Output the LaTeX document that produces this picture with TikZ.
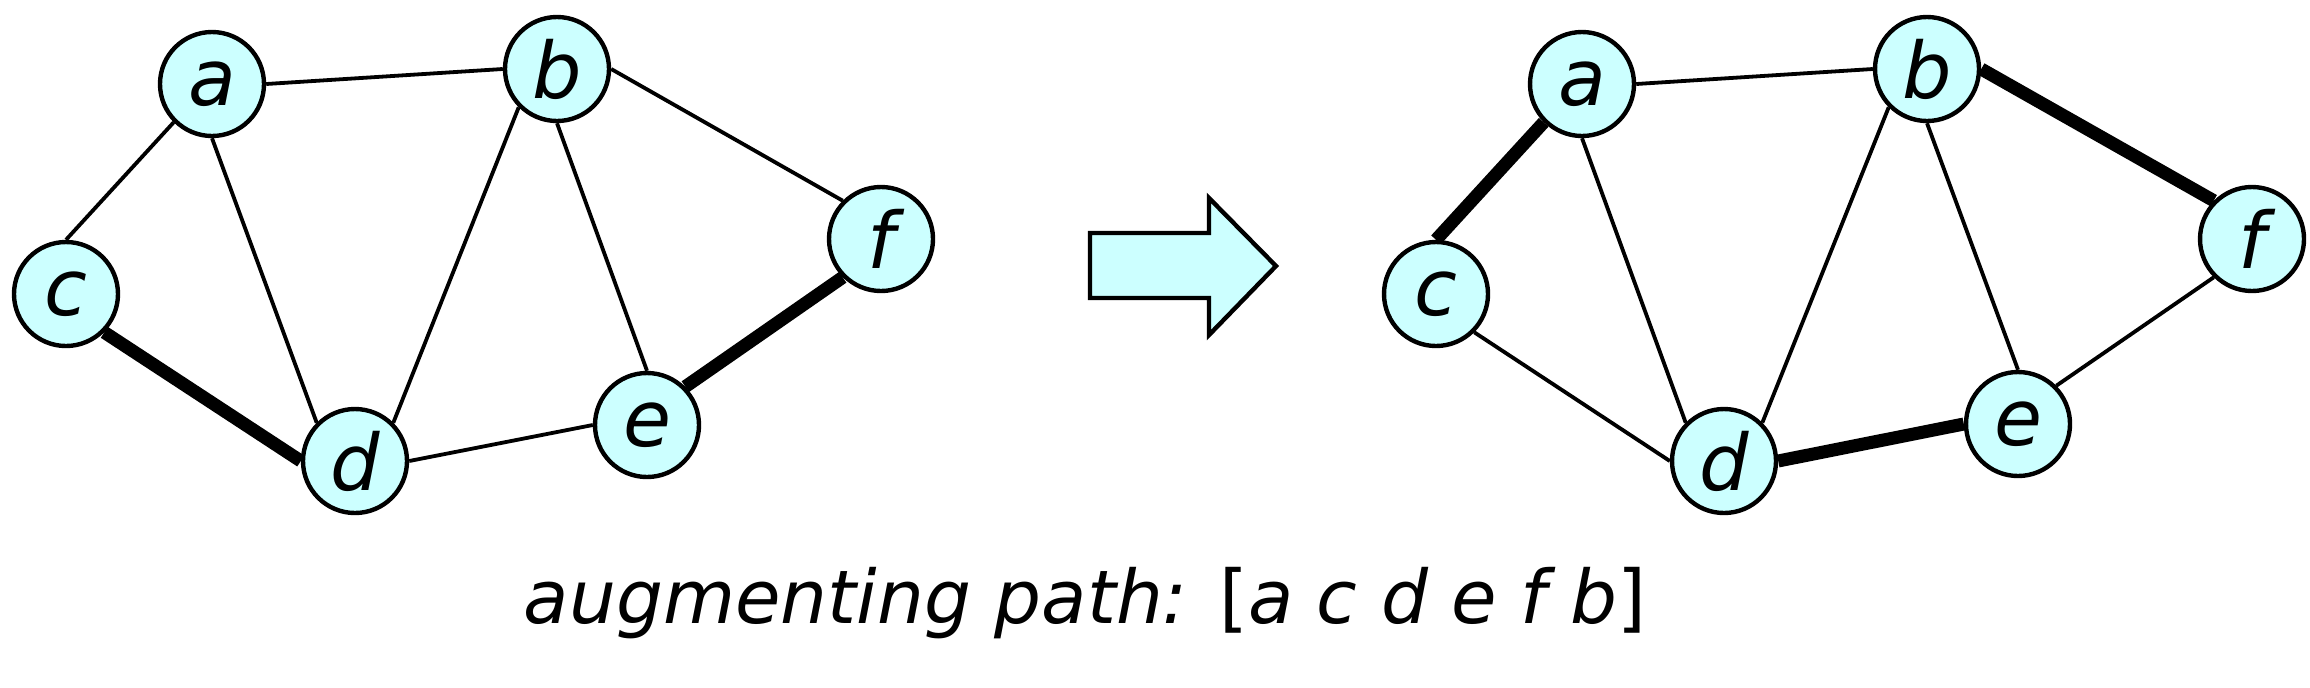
\documentclass[tikz,border=0pt]{standalone}
\usepackage{fontspec}
\setmainfont{DejaVu Sans}
\usetikzlibrary{positioning}
\definecolor{vfill}{HTML}{CCFFFF}
\tikzstyle{vertex} = [draw, circle, line width=2.2pt, fill=vfill, minimum size=52pt, inner sep=0pt, font=\itshape\fontsize{39}{39}\selectfont]
\tikzstyle{edge} = [draw, line width=1.9pt]
\tikzstyle{matched} = [draw, line width=6.5pt]
\tikzstyle{bigarrow} = [draw, line width=2.2pt, fill=vfill, line join=miter]

\begin{document}
\begin{tikzpicture}[x=0.5pt, y=-0.5pt]
    \useasboundingbox (0,0) rectangle (2310,687);
    % Nodes (left graph)
    \node [vertex] (la) at (212,84) {a};
    \node [vertex] (lb) at (557,69) {b};
    \node [vertex] (lc) at (66,294) {c};
    \node [vertex] (ld) at (355,461) {d};
    \node [vertex] (le) at (647,425) {e};
    \node [vertex] (lf) at (881,239) {f};
    % Nodes (right graph)
    \node [vertex] (ra) at (1582,84) {a};
    \node [vertex] (rb) at (1927,69) {b};
    \node [vertex] (rc) at (1436,294) {c};
    \node [vertex] (rd) at (1724,461) {d};
    \node [vertex] (re) at (2018,424) {e};
    \node [vertex] (rf) at (2252,239) {f};

    % Paths (left graph)
    \path [edge] (la.east) -- (lb.west);
    \path [edge] (la.south west) -- (lc.north);
    \path [edge] (la.south) -- (ld.north west);
    \path [edge] (lb.south west) -- (ld.north east);
    \path [edge] (lb.south) -- (le.north);
    \path [edge] (lb.east) -- (lf.north west);
    \path [matched] (lc.south east) -- (ld.west);
    \path [edge] (ld.east) -- (le.west);
    \path [matched] (le.north east) -- (lf.south west);
    % Paths (right graph)
    \path [edge] (ra.east) -- (rb.west);
    \path [matched] (ra.south west) -- (rc.north);
    \path [edge] (ra.south) -- (rd.north west);
    \path [edge] (rb.south west) -- (rd.north east);
    \path [edge] (rb.south) -- (re.north);
    \path [matched] (rb.east) -- (rf.north west);
    \path [edge] (rc.south east) -- (rd.west);
    \path [matched] (rd.east) -- (re.west);
    \path [edge] (re.north east) -- (rf.south west);

    % Block arrow
    \draw [bigarrow] (1090,233) -- (1209,233) -- (1209,198) -- (1276,266)
        -- (1209,335) -- (1209,298) -- (1090,298) -- cycle;

    % Caption
    \node [anchor=base, inner sep=0pt, font=\fontsize{37}{37}\selectfont] (caption) at (1085,623) {\itshape augmenting path: \upshape[\itshape a c d e f b\upshape]};
\end{tikzpicture}
\end{document}
